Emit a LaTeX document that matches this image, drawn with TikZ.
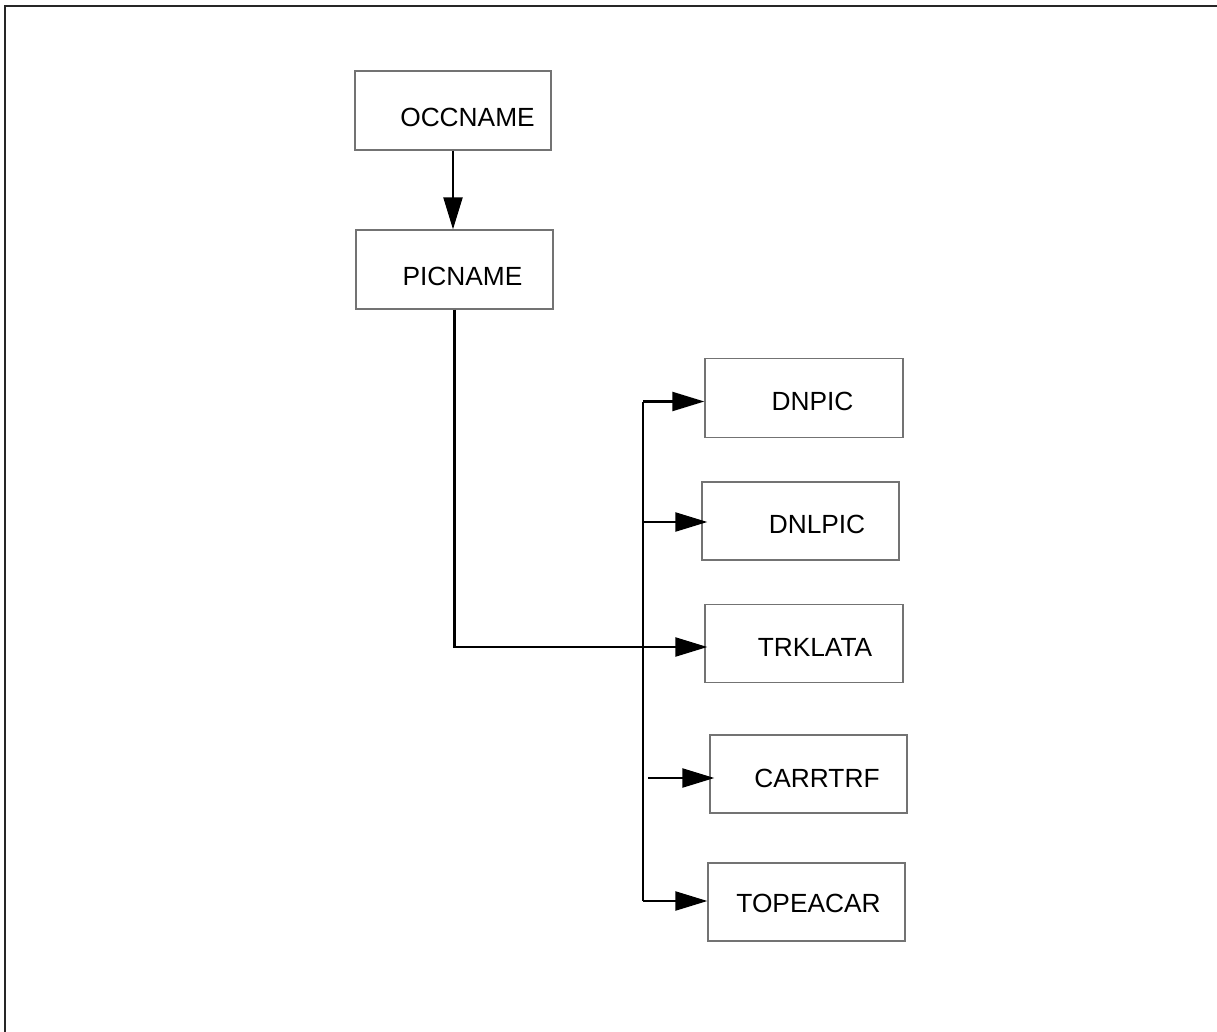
\documentclass[tikz,border=0pt]{standalone}
\usepackage{fontspec}
\setmainfont{Liberation Sans}
\usetikzlibrary{arrows.meta}
\begin{document}
\begin{tikzpicture}[x=1pt,y=-1pt,
  box/.style={draw=black!55, line width=1.3pt, fill=none, inner sep=0pt},
  lbl/.style={inner sep=0pt, font=\fontsize{26.3}{30}\selectfont},
  conn/.style={line width=2.2pt, black},
  arr/.style={conn, -{Triangle[length=32pt,width=19pt]}}]
\useasboundingbox (0,0) rectangle (1217,1032);
% frame
\draw[line width=2pt, black!85] (4.6,1040) -- (4.6,6) -- (1225,6);
% boxes
\node[box, minimum width=196pt, minimum height=79pt] (occ) at (453,110.5) {};
\node[box, minimum width=197pt, minimum height=79pt] (pic) at (454.5,269.5) {};
\node[box, minimum width=198pt, minimum height=78.5pt] (dnpic) at (804,398) {};
\node[box, minimum width=197pt, minimum height=78pt] (dnlpic) at (800.5,521) {};
\node[box, minimum width=198pt, minimum height=78pt] (trk) at (804,643.3) {};
\node[box, minimum width=197pt, minimum height=78pt] (carr) at (808.5,774) {};
\node[box, minimum width=197pt, minimum height=78pt] (topc) at (806.5,902) {};
% labels
\node[lbl] (occt) at (467.5,117.5) {OCCNAME};
\node[lbl] (pict) at (462.5,276.5) {PICNAME};
\node[lbl] (dnpict) at (812.5,401) {DNPIC};
\node[lbl] (dnlpict) at (817,524.5) {DNLPIC};
\node[lbl] (trkt) at (815,647.5) {TRKLATA};
\node[lbl] (carrt) at (817,778.7) {CARRTRF};
\node[lbl] (topct) at (808.5,903.7) {TOPEACAR};
% connector coordinates (yshift is in canvas pt: negative = down)
\coordinate (bustop) at (643.3,401.5);
\coordinate (busbot) at (643.3,901);
\coordinate (dnlsrc) at (643.3,522);
\coordinate (carrsrc) at (648,778);
\coordinate (dnin) at ([yshift=-3.5pt]dnpic.west);
\coordinate (dnlin) at ([xshift=6pt,yshift=-1pt]dnlpic.west);
\coordinate (trkin) at ([xshift=3pt,yshift=-3.7pt]trk.west);
\coordinate (carrin) at ([xshift=5pt,yshift=-4pt]carr.west);
\coordinate (topin) at ([yshift=1pt]topc.west);
% connectors
\draw[arr] (occ.south) -- (occ.south |- pic.north);
\draw[arr] (pic.south) |- (trkin);
\draw[conn] (busbot) -- (bustop);
\draw[arr] (bustop) -- (dnin);
\draw[arr] (dnlsrc) -- (dnlin);
\draw[arr] (carrsrc) -- (carrin);
\draw[arr] (busbot) -- (topin);
\end{tikzpicture}
\end{document}
